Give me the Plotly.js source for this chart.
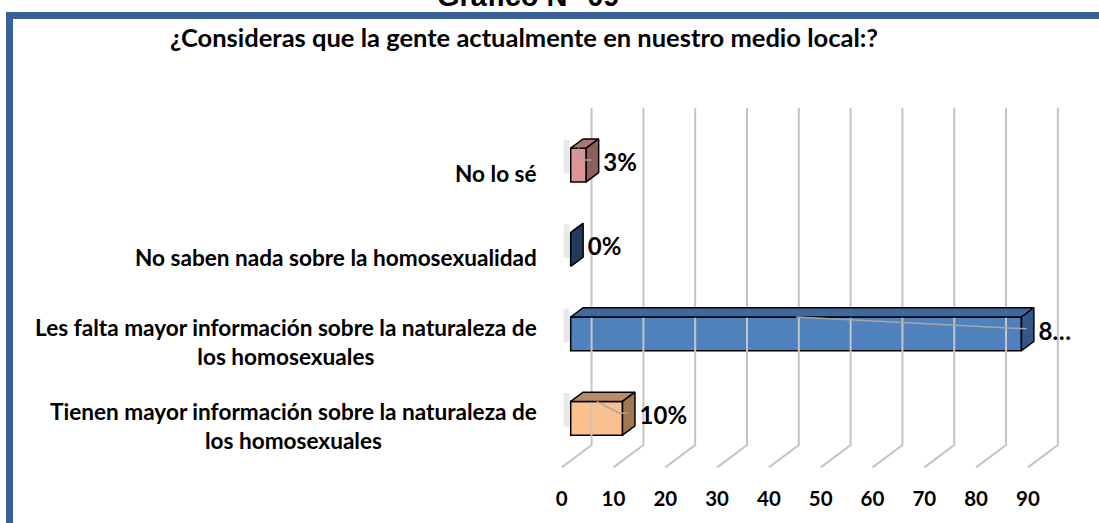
<!DOCTYPE html>
<html><head><meta charset="utf-8">
<script src="https://cdn.plot.ly/plotly-3.0.1.min.js"></script>
<style>
html,body{margin:0;padding:0;background:#fff;}
#wrap{position:relative;width:1099px;height:523px;overflow:hidden;}
#chart{position:absolute;left:0;top:0;width:1099px;height:523px;}
#frame{position:absolute;left:6px;top:12px;right:0;bottom:0;border-top:7px solid #3a6197;border-left:7px solid #3a6197;pointer-events:none;}
</style></head>
<body><div id="wrap"><div id="chart"></div><div id="frame"></div></div>
<script>
// ---- data ----
const categories = [
  'Tienen mayor información sobre la naturaleza de<br>los homosexuales',
  'Les falta mayor información sobre la naturaleza de<br>los homosexuales',
  'No saben nada sobre la homosexualidad',
  'No lo sé'
];
const values = [10, 87, 0, 3];
const valueLabels = ['10%', '8…', '0%', '3%'];
const tickValues = [0, 10, 20, 30, 40, 50, 60, 70, 80, 90];
const tickLabels = ['0', '10', '20', '30', '40', '50', '60', '70', '80', '90'];
const titleText = 'Gráfico N° 09';
const subtitleText = '¿Consideras que la gente actualmente en nuestro medio local:?';

// ---- styles ----
const frontColors = ['#fac090', '#4f81bd', '#243f62', '#d99694'];
const topColors   = ['#b88c66', '#41689c', '#1f3658', '#ad7371'];
const sideColors  = ['#a27853', '#34578a', '#223a5e', '#8f5d5b'];
const FONT = 'Lato, "Open Sans", sans-serif';
const H = 0.2;          // half bar thickness (category units)
const DX = 2.4;         // bar depth, x units
const DY = 0.11;        // bar depth, y units
const WALL_X = 4.03, FLOOR_X = -1.74;
const WALL_TOP = 3.676, WALL_BOT = -0.316, FLOOR_Y = -0.581;

const idx = values.map((_, i) => i);
const traces = [];

// gridlines (back wall + floor diagonal)
const gx = [], gy = [];
tickValues.forEach(v => {
  gx.push(v + WALL_X, v + WALL_X, v + FLOOR_X, null);
  gy.push(WALL_TOP, WALL_BOT, FLOOR_Y, null);
});
traces.push({type: 'scatter', mode: 'lines', x: gx, y: gy, xaxis: 'x', yaxis: 'y',
  line: {color: '#c4c4c4', width: 2}, hoverinfo: 'skip', showlegend: false});

// soft shadows left of bars
idx.forEach(i => {
  traces.push({type: 'scatter', mode: 'lines', x: [-0.8, -0.8], y: [i - 0.1, i + H + 0.1],
    line: {color: 'rgba(120,120,120,0.16)', width: 6}, hoverinfo: 'skip', showlegend: false});
});

// front faces
traces.push({type: 'bar', orientation: 'h', x: values, y: idx, width: 2 * H,
  marker: {color: frontColors, line: {color: '#000', width: 1.5}},
  hoverinfo: 'skip', showlegend: false});

// top & side faces
values.forEach((v, i) => {
  traces.push({type: 'scatter', mode: 'lines', fill: 'toself', fillcolor: topColors[i],
    x: [0, v, v + DX, DX, 0], y: [i + H, i + H, i + H + DY, i + H + DY, i + H],
    line: {color: '#000', width: 1.5}, hoverinfo: 'skip', showlegend: false});
  traces.push({type: 'scatter', mode: 'lines', fill: 'toself', fillcolor: sideColors[i],
    x: [v, v + DX, v + DX, v, v], y: [i - H, i - H + DY, i + H + DY, i + H, i - H],
    line: {color: '#000', width: 1.5}, hoverinfo: 'skip', showlegend: false});
});

// leader lines
values.forEach((v, i) => {
  if (v <= 0) return;
  traces.push({type: 'scatter', mode: 'lines',
    x: [v / 2, v - 0.6, v + 1.0], y: [i + H, i + 0.06, i + 0.06],
    line: {color: '#a6a6a6', width: 1.5}, hoverinfo: 'skip', showlegend: false});
});

// value labels
traces.push({type: 'scatter', mode: 'text', x: values.map(v => v + DX + 0.9), y: idx,
  text: valueLabels, textposition: 'middle right', cliponaxis: false,
  textfont: {family: FONT, size: 24, color: '#000', weight: 'bold'},
  hoverinfo: 'skip', showlegend: false});

// dummy trace for the tick-label axis
traces.push({type: 'scatter', mode: 'markers', x: [0], y: [0], xaxis: 'x2', yaxis: 'y',
  marker: {opacity: 0}, hoverinfo: 'skip', showlegend: false});

const annotations = categories.map((c, i) => ({
  text: c, xref: 'paper', yref: 'y', x: 0, y: i, xanchor: 'right', yanchor: 'middle',
  xshift: -6, yshift: -8, align: 'center', showarrow: false,
  font: {family: FONT, size: 22.6, color: '#000', weight: 'bold'}
}));
annotations.push({text: titleText, xref: 'paper', yref: 'paper', x: -0.031, y: 1.273,
  xanchor: 'center', yanchor: 'middle', showarrow: false,
  font: {family: '"Liberation Sans", Arial, sans-serif', size: 29, color: '#000', weight: 'bold'}});
annotations.push({text: subtitleText, xref: 'paper', yref: 'paper', x: -0.0373, y: 1.166,
  xanchor: 'center', yanchor: 'middle', showarrow: false,
  font: {family: FONT, size: 25.5, color: '#000', weight: 'bold'}});

const layout = {
  width: 1099, height: 523,
  margin: {l: 545, r: 4, t: 100, b: 43},
  paper_bgcolor: '#fff', plot_bgcolor: 'rgba(0,0,0,0)',
  showlegend: false,
  xaxis: {range: [-4.96, 101.2], showgrid: false, zeroline: false, showticklabels: false,
    showline: false, ticks: '', fixedrange: true},
  xaxis2: {overlaying: 'x', side: 'bottom', range: [-3.22, 102.95], tickvals: tickValues,
    ticktext: tickLabels, showgrid: false, zeroline: false, showline: false, ticks: '',
    ticklabelstandoff: 4,
    tickfont: {family: FONT, size: 20.5, color: '#000', weight: 'bold'}, fixedrange: true},
  yaxis: {range: [-0.731, 3.771], showgrid: false, zeroline: false, showticklabels: false,
    showline: false, ticks: '', fixedrange: true},
  annotations: annotations
};

Plotly.newPlot('chart', traces, layout, {staticPlot: true, displayModeBar: false});
</script>
</body></html>
